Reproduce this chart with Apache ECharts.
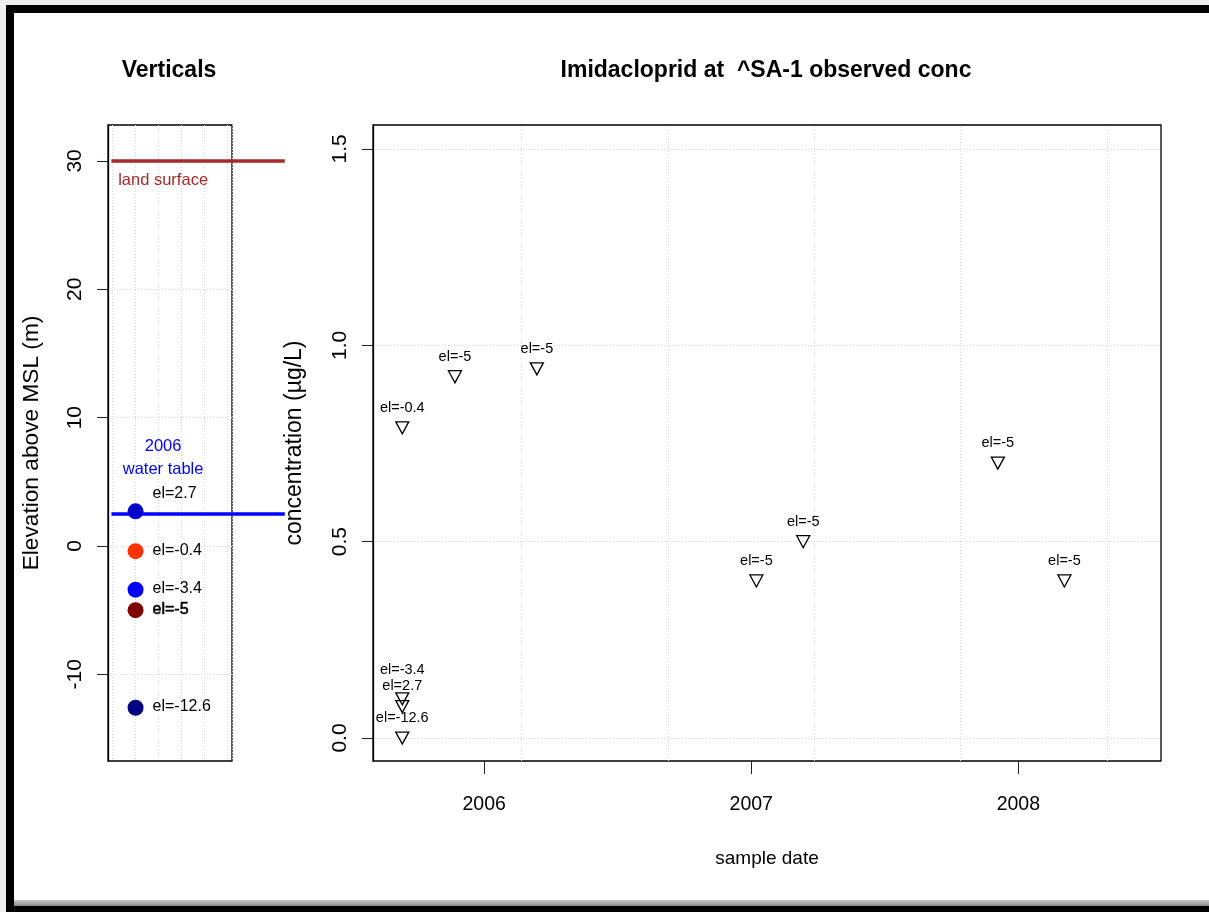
<!DOCTYPE html>
<html>
<head>
<meta charset="utf-8">
<script src="https://cdn.jsdelivr.net/npm/echarts@6/dist/echarts.min.js"></script>
<style>
html,body{margin:0;padding:0;background:#fff;}
.f{position:absolute;}
</style>
</head>
<body>
<div id="chart" class="f" style="left:0;top:0;width:1209px;height:912px"></div>
<div class="f" style="left:0;top:0;width:1209px;height:5px;background:#eeeeee"></div>
<div class="f" style="left:0;top:0;width:6px;height:912px;background:#eeeeee"></div>
<div class="f" style="left:6px;top:5px;width:1203px;height:8px;background:#000"></div>
<div class="f" style="left:6px;top:5px;width:8px;height:907px;background:#000"></div>
<div class="f" style="left:14px;top:900px;width:1195px;height:6px;background:linear-gradient(#c8c8c8,#8c8c8c)"></div>
<div class="f" style="left:6px;top:906px;width:1203px;height:6px;background:#000"></div>
<script>
// ---------- data ----------
const wellElevations = [2.7, -0.4, -3.4, -5, -12.6];
const wellLabels = ['el=2.7', 'el=-0.4', 'el=-3.4', 'el=-5', 'el=-12.6'];
const wellColors = ['#0000cd', '#ff3300', '#0000ff', '#800000', '#000080'];
const landSurface = 30;
const waterTable2006 = 2.5;
const elevTicks = [-10, 0, 10, 20, 30];

const sampleDates = ['2005-09-11', '2005-09-11', '2005-09-11', '2005-09-11', '2005-11-22',
                     '2006-03-14', '2007-01-08', '2007-03-13', '2007-12-04', '2008-03-04'];
const sampleConc  = [0.79, 0.10, 0.08, 0.00, 0.92, 0.94, 0.40, 0.50, 0.70, 0.40];
const sampleLabels = ['el=-0.4', 'el=-3.4', 'el=2.7', 'el=-12.6', 'el=-5',
                      'el=-5', 'el=-5', 'el=-5', 'el=-5', 'el=-5'];
const concTicks = [0, 0.5, 1.0, 1.5];
const yearTicks = ['2006-01-01', '2007-01-01', '2008-01-01'];
const gridDates = ['2006-02-21', '2006-09-09', '2007-03-28', '2007-10-14', '2008-05-01'];

// ---------- helpers ----------
const toMs = s => Date.parse(s + 'T00:00:00Z');
const FONT = "'Liberation Sans', Arial, sans-serif";
const gridLine = {show: true, lineStyle: {color: '#d4d4d4', type: [1, 2], width: 1}};
const ELEV_MIN = -16.75, ELEV_MAX = 32.8;
const hiddenAxis = {show: false, axisLine: {show: false, onZero: false}, axisTick: {show: false},
                    axisLabel: {show: false}, splitLine: {show: false}};

const chart = echarts.init(document.getElementById('chart'), null, {renderer: 'canvas'});

const option = {
  animation: false,
  backgroundColor: 'transparent',
  title: [
    {text: 'Verticals', left: 164, top: 54, textAlign: 'center',
     textStyle: {fontSize: 23, fontWeight: 'bold', fontFamily: FONT, color: '#000'}},
    {text: 'Imidacloprid at  ^SA-1 observed conc', left: 761, top: 54, textAlign: 'center',
     textStyle: {fontSize: 23, fontWeight: 'bold', fontFamily: FONT, color: '#000'}}
  ],
  grid: [
    {left: 108, top: 125, width: 124, height: 636, show: true, borderColor: '#000', borderWidth: 1.3, backgroundColor: 'transparent'},
    {left: 373, top: 125, width: 788, height: 636, show: true, borderColor: '#000', borderWidth: 1.3, backgroundColor: 'transparent'},
    // overlay for reference lines that reach past the left panel box
    {left: 108, top: 125, width: 182, height: 636, show: false}
  ],
  xAxis: [
    {gridIndex: 0, type: 'value', min: -0.2, max: 5.2, splitNumber: 5,
     axisLine: {show: false, onZero: false}, axisTick: {show: false}, axisLabel: {show: false},
     splitLine: gridLine},
    {gridIndex: 1, type: 'value', min: toMs('2005-08-02'), max: toMs('2008-07-14'),
     axisLine: {show: false, onZero: false},
     axisTick: {show: true, customValues: yearTicks.map(toMs), length: 13, lineStyle: {color: '#222', width: 1}},
     axisLabel: {customValues: yearTicks.map(toMs), formatter: v => String(new Date(v).getUTCFullYear()),
                 margin: 34, fontSize: 19.5, fontFamily: FONT, color: '#000'},
     splitLine: {show: false},
     name: 'sample date', nameLocation: 'middle', nameGap: 88,
     nameTextStyle: {fontSize: 19, fontFamily: FONT, color: '#000'}},
    Object.assign({gridIndex: 2, type: 'value', min: -0.2, max: -0.2 + 182 * 5.4 / 124}, hiddenAxis)
  ],
  yAxis: [
    {gridIndex: 0, type: 'value', min: ELEV_MIN, max: ELEV_MAX, splitNumber: 5,
     axisLine: {show: true, onZero: false, lineStyle: {color: '#000', width: 1.3}},
     axisTick: {show: true, customValues: elevTicks, length: 11, lineStyle: {color: '#222', width: 1}},
     axisLabel: {customValues: elevTicks, rotate: 90, margin: 22, fontSize: 21, fontFamily: FONT, color: '#000'},
     splitLine: gridLine,
     name: 'Elevation above MSL (m)', nameLocation: 'middle', nameRotate: 90, nameGap: 65,
     nameTextStyle: {fontSize: 22.7, fontFamily: FONT, color: '#000'}},
    {gridIndex: 1, type: 'value', min: -0.0585, max: 1.561, splitNumber: 3,
     axisLine: {show: true, onZero: false, lineStyle: {color: '#000', width: 1.3}},
     axisTick: {show: true, customValues: concTicks, length: 11, lineStyle: {color: '#222', width: 1}},
     axisLabel: {customValues: concTicks, rotate: 90, margin: 22, fontSize: 21, fontFamily: FONT, color: '#000',
                 formatter: v => v.toFixed(1)},
     splitLine: gridLine,
     name: 'concentration (µg/L)', nameLocation: 'middle', nameRotate: 90, nameGap: 67,
     nameTextStyle: {fontSize: 23, fontFamily: FONT, color: '#000'}},
    Object.assign({gridIndex: 2, type: 'value', min: ELEV_MIN, max: ELEV_MAX}, hiddenAxis)
  ],
  series: [
    {type: 'line', xAxisIndex: 2, yAxisIndex: 2, clip: false, symbol: 'none', silent: true,
     data: [[-0.05, landSurface], [7.5, landSurface]],
     lineStyle: {color: '#a52a2a', width: 3.5}, z: 3},
    {type: 'line', xAxisIndex: 2, yAxisIndex: 2, clip: false, symbol: 'none', silent: true,
     data: [[-0.05, waterTable2006], [7.5, waterTable2006]],
     lineStyle: {color: '#0000ff', width: 3.5}, z: 3},
    {type: 'scatter', xAxisIndex: 0, yAxisIndex: 0, symbolSize: 0, silent: true, z: 4,
     itemStyle: {opacity: 1},
     data: [
       {value: [2.2, landSurface], label: {show: true, position: 'bottom', distance: 11, color: '#a52a2a',
         formatter: 'land surface', fontSize: 16.5, fontFamily: FONT}},
       {value: [2.2, waterTable2006], label: {show: true, position: 'top', distance: 33, color: '#0000ff',
         formatter: '2006\nwater table', fontSize: 16.5, lineHeight: 23, align: 'center', fontFamily: FONT}}
     ]},
    {type: 'scatter', xAxisIndex: 0, yAxisIndex: 0, symbol: 'circle', symbolSize: 16, z: 5,
     data: wellElevations.map((e, i) => ({
       value: [1, e],
       itemStyle: {color: wellColors[i], opacity: 1},
       label: {offset: i === 0 ? [0, -18] : [0, -1],
               textBorderColor: wellLabels[i] === 'el=-5' ? '#000' : 'transparent',
               textBorderWidth: wellLabels[i] === 'el=-5' ? 0.6 : 0}
     })),
     label: {show: true, position: 'right', distance: 9, fontSize: 16, fontFamily: FONT, color: '#000',
             formatter: p => wellLabels[p.dataIndex]}},
    {type: 'scatter', xAxisIndex: 1, yAxisIndex: 1, symbol: 'triangle', symbolRotate: 180,
     symbolSize: [13, 12], z: 5,
     itemStyle: {color: 'rgba(0,0,0,0)', borderColor: '#000', borderWidth: 1.3, opacity: 1},
     data: sampleDates.map((d, i) => ({
       value: [toMs(d), sampleConc[i]],
       label: i === 1 ? {distance: 15} : {}
     })),
     label: {show: true, position: 'top', distance: 6, fontSize: 14.5, fontFamily: FONT, color: '#000',
             formatter: p => sampleLabels[p.dataIndex]},
     markLine: {silent: true, symbol: 'none', label: {show: false}, z: 1,
                lineStyle: {color: '#d4d4d4', type: [1, 2], width: 1},
                data: gridDates.map(d => ({xAxis: toMs(d)}))}}
  ]
};
chart.setOption(option);
</script>
</body>
</html>
